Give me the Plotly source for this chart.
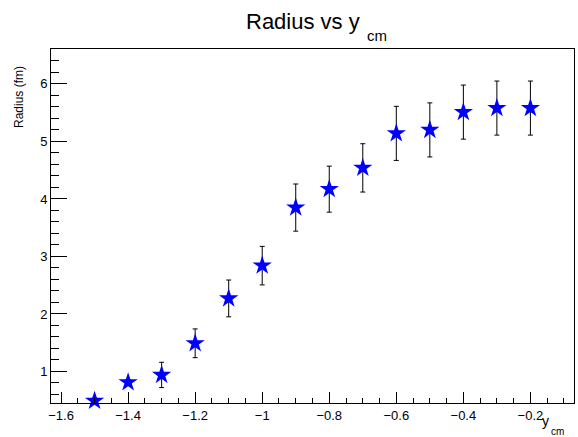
import plotly.graph_objects as go

# Data
y_cm = [-1.5, -1.4, -1.3, -1.2, -1.1, -1.0, -0.9, -0.8, -0.7, -0.6, -0.5, -0.4, -0.3, -0.2]
radius = [0.49, 0.81, 0.94, 1.49, 2.27, 2.84, 3.85, 4.17, 4.54, 5.14, 5.20, 5.51, 5.58, 5.58]
radius_err = [0.05, 0.05, 0.22, 0.25, 0.32, 0.335, 0.41, 0.40, 0.42, 0.47, 0.47, 0.47, 0.47, 0.47]

W, H = 578, 437
L, R, T, B = 51, 574, 49, 403
FONT = "Liberation Sans, Arial, Helvetica, sans-serif"


def px(x):
    return (x - L) / (R - L)


def py(y):
    return (B - y) / (B - T)


fig = go.Figure()
fig.add_trace(go.Scatter(
    x=y_cm, y=radius, mode="markers", cliponaxis=False,
    marker=dict(symbol="star", size=14.5, color="#0000ff", line=dict(width=0)),
    error_y=dict(type="data", array=radius_err, visible=True, color="black",
                 thickness=1, width=2.5),
    showlegend=False,
))

axis_common = dict(
    showgrid=False, zeroline=False, showline=True, mirror=True,
    linecolor="black", linewidth=1, ticks="inside", tickcolor="black",
    tickfont=dict(family=FONT, size=13, color="black"),
)

fig.update_xaxes(
    range=[-1.63, -0.07], dtick=0.2, tick0=0, ticklen=11, tickwidth=1,
    minor=dict(dtick=0.05, ticklen=5, ticks="inside", tickcolor="black", tickwidth=1),
    **axis_common,
)
fig.update_yaxes(
    range=[0.452, 6.607], dtick=1, tick0=0, ticklen=16, tickwidth=1,
    minor=dict(dtick=0.2, ticklen=8, ticks="inside", tickcolor="black", tickwidth=1),
    **axis_common,
)

ann = [
    dict(text="Radius vs y", x=px(362), y=py(21), xanchor="right", yanchor="middle",
         font=dict(family=FONT, size=22, color="black")),
    dict(text="cm", x=px(365), y=py(36), xanchor="left", yanchor="middle",
         font=dict(family=FONT, size=15, color="black")),
    dict(text="Radius (fm)", x=px(19), y=py(97), xanchor="center", yanchor="middle",
         textangle=-90, font=dict(family=FONT, size=12, color="black")),
    dict(text="y", x=px(545), y=py(421), xanchor="center", yanchor="middle",
         font=dict(family=FONT, size=14, color="black")),
    dict(text="cm", x=px(549), y=py(431), xanchor="left", yanchor="middle",
         font=dict(family=FONT, size=10, color="black")),
]
for a in ann:
    a.update(xref="paper", yref="paper", showarrow=False)

fig.update_layout(
    width=W, height=H,
    margin=dict(l=L, r=W - R, t=T, b=H - B),
    paper_bgcolor="white", plot_bgcolor="white",
    annotations=ann,
    font=dict(family=FONT),
)

fig.write_html("out.html")
